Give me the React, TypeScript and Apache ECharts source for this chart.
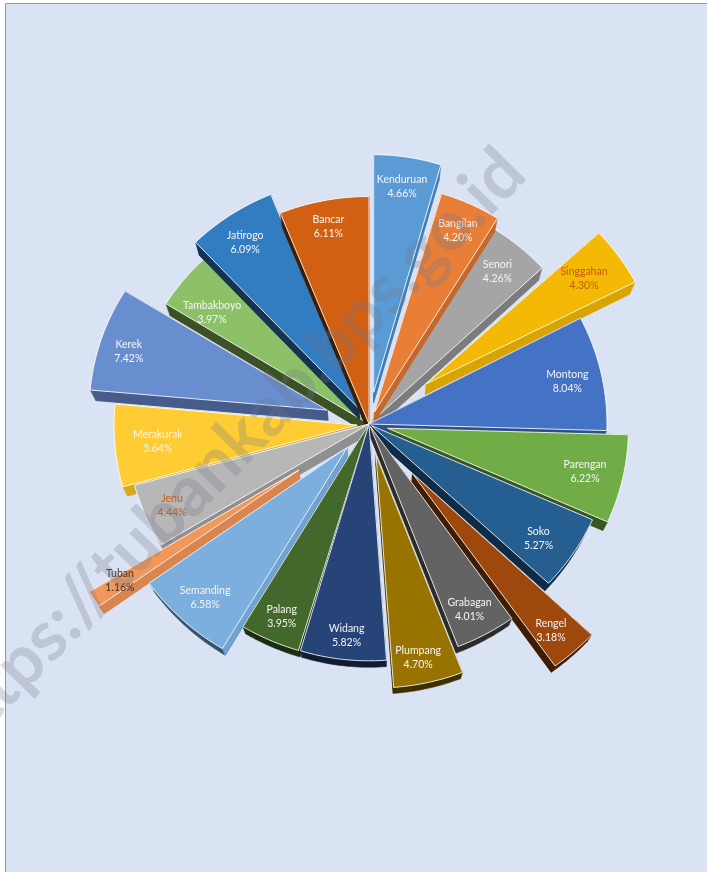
import React, { useEffect, useRef } from "react";
import * as echarts from "echarts";

const categories = ["Kenduruan","Bangilan","Senori","Singgahan","Montong","Parengan","Soko","Rengel","Grabagan","Plumpang","Widang","Palang","Semanding","Tuban","Jenu","Merakurak","Kerek","Tambakboyo","Jatirogo","Bancar"];
const shares = [4.66,4.20,4.26,4.30,8.04,6.22,5.27,3.18,4.01,4.70,5.82,3.95,6.58,1.16,4.44,5.64,7.42,3.97,6.09,6.11];
const explodes = [32,13,0,70,0,19,3,66,3,32,0,0,32,84,0,12,44,0,18,0];
const radii = [233,233,236,235,238,241,242,245,243,240,238,245,243,245,243,243,238,239,236,237];
const tilts = [1.02,0.98,0.975,0.945,0.97,0.955,0.955,0.965,0.97,0.97,0.995,0.965,0.965,0.96,0.96,0.97,0.95,0.955,0.98,0.96];
const topColors = ["#5B9BD5","#E97F36","#A5A5A5","#F4B905","#4472C4","#70AD47","#255E91","#9E480E","#636363","#997300","#264478","#43682B","#7CAFDD","#F1975A","#B7B7B7","#FFCD33","#698ED0","#8CC168","#327DC2","#D26012"];
const sideColors = ["#3F7FB8","#C5682A","#7C7C7C","#D9A300","#2F4F8C","#375623","#0F2B45","#3F1D05","#2B2B2B","#3F3000","#0F1C32","#1C2C12","#38516D","#D98550","#909090","#D6A920","#465C8A","#3B5226","#143452","#3F1D05"];
const wallColors = ["#3F7FB8","#C5682A","#7C7C7C","#D9A300","#2F4F8C","#375623","#0F2B45","#3F1D05","#2B2B2B","#3F3000","#0F1C32","#1C2C12","#6FA3D2","#D98550","#909090","#D6A920","#465C8A","#3B5226","#143452","#3F1D05"];
const labelColors = ["#F5F5F5","#F5F5F5","#F5F5F5","#C55A11","#F5F5F5","#F5F5F5","#F5F5F5","#F5F5F5","#F5F5F5","#F5F5F5","#F5F5F5","#F5F5F5","#F5F5F5","#333333","#C55A11","#F5F5F5","#F5F5F5","#F5F5F5","#F5F5F5","#F5F5F5"];
const labelRadii = [240,213,200,260,203,221,204,275,211,238,212,211,238,294,213,212,251,193,220,202];
const labelAngles = [2.2,6.85,11.1,15.5,21.6,28.4,34.4,38.5,42.1,46.7,51.7,56.8,62.1,66.1,68.8,73.7,79.7,84.9,90.5,96.8];
const drawOrder = ["Kerek","Tambakboyo","Jatirogo","Bancar","Merakurak","Jenu","Tuban","Senori","Bangilan","Kenduruan","Singgahan","Montong","Parengan","Soko","Rengel","Grabagan","Plumpang","Semanding","Palang","Widang"];
const watermark = "https://tubankab.bps.go.id";

const total = shares.reduce((a, b) => a + b, 0);
const SQUEEZE = 0.02;
const FONT = 'Lato, sans-serif';

export default function App() {
  const ref = useRef<HTMLDivElement>(null);
  useEffect(() => {
    const chart = echarts.init(ref.current!, undefined, { renderer: "svg" });
    const starts: number[] = [];
    shares.reduce((acc, v, i) => { starts[i] = acc; return acc + v; }, 0);

    const renderItem = (params: any, api: any) => {
      const i = params.dataIndex;
      const cx = params.coordSys.cx;
      const cy = params.coordSys.cy;
      const start = starts[i];
      const end = start + shares[i];
      const a0 = (start / total) * 2 * Math.PI - Math.PI / 2;
      const a1 = (end / total) * 2 * Math.PI - Math.PI / 2;
      const apex = api.coord([explodes[i], (start + end) / 2]);
      const r = radii[i];
      const low = (p: number[]) => [p[0] - (p[0] - cx) * SQUEEZE, p[1] + 10 + (cy - p[1]) * 0.015];
      const at = (a: number) => [apex[0] + r * Math.cos(a), apex[1] + r * tilts[i] * Math.sin(a)];
      const steps = 24;
      const arc: number[][] = [];
      for (let s = 0; s <= steps; s++) arc.push(at(a0 + ((a1 - a0) * s) / steps));
      const z = drawOrder.indexOf(categories[i]) * 3 + 1;
      const sideStyle = { fill: sideColors[i], stroke: sideColors[i], lineWidth: 0.5 };
      const wallStyle = { fill: wallColors[i], stroke: wallColors[i], lineWidth: 0.5 };
      const lbl = api.coord([labelRadii[i], labelAngles[i]]);
      return {
        type: "group",
        children: [
          { type: "polygon", z2: z, shape: { points: [low(apex), ...arc.map(low)] }, style: sideStyle },
          { type: "polygon", z2: z, shape: { points: [apex, arc[0], low(arc[0]), low(apex)] }, style: wallStyle },
          { type: "polygon", z2: z, shape: { points: [apex, arc[steps], low(arc[steps]), low(apex)] }, style: wallStyle },
          {
            type: "polygon",
            z2: z + 1,
            shape: { points: [apex, ...arc] },
            style: { fill: topColors[i], stroke: "rgba(255,255,255,0.85)", lineWidth: 1 },
          },
          {
            type: "text",
            z2: 500,
            x: lbl[0],
            y: lbl[1],
            style: {
              text: `${categories[i]}\n${shares[i].toFixed(2)}%`,
              fill: labelColors[i],
              font: `10.5px ${FONT}`,
              lineHeight: 14,
              align: "center",
              verticalAlign: "middle",
            },
          },
        ],
      };
    };

    chart.setOption({
      animation: false,
      polar: { center: [369, 424], radius: 238 },
      radiusAxis: { show: false, min: 0, max: 238 },
      angleAxis: { show: false, min: 0, max: total, startAngle: 90 },
      graphic: [
        {
          type: "rect",
          z: -1,
          silent: true,
          shape: { x: 5.5, y: 3.5, width: 720, height: 890 },
          style: { fill: "#DAE3F3", stroke: "#6FA2D4", lineWidth: 1 },
        },
        {
          type: "text",
          z: 20,
          silent: true,
          x: 510,
          y: 158,
          rotation: Math.PI / 4 + 0.01,
          style: {
            text: watermark,
            fill: "rgba(110,120,140,0.27)",
            font: `700 70px ${FONT}`,
            align: "right",
            verticalAlign: "middle",
          },
        },
      ],
      series: [
        {
          type: "custom",
          coordinateSystem: "polar",
          silent: true,
          renderItem,
          encode: { radius: 0, angle: 1 },
          data: shares.map((v, i) => [explodes[i], starts[i] + v / 2]),
        },
      ],
    });
    return () => chart.dispose();
  }, []);
  return <div ref={ref} style={{ position: "fixed", left: 0, top: 0, width: 707, height: 872 }} />;
}
